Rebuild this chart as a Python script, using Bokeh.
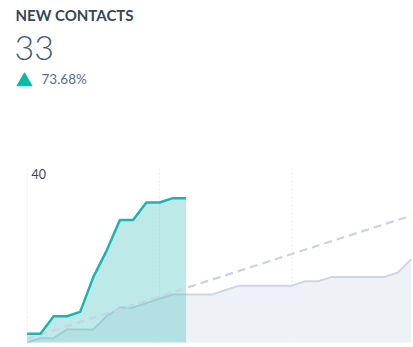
from bokeh.plotting import figure
from bokeh.models import Range1d, Label, ColumnDataSource
from bokeh.embed import file_html
from bokeh.resources import INLINE

# ---- data ----
days = list(range(30))
current = [2, 2, 6, 6, 7, 15, 21, 28, 28, 32, 32, 33, 33]
previous = [0, 1, 1, 3, 3, 3, 6, 8, 8, 9, 10, 11, 11, 11, 11, 12, 13, 13, 13, 13,
            13, 14, 14, 15, 15, 15, 15, 15, 16, 19]
trend_days = [0, 29]
trend_vals = [0.8, 29]
grid_days = [0, 10, 20]
y_max = 40
title = "NEW CONTACTS"
total = "33"
change = "73.68%"

# ---- layout helpers (pixel -> data) ----
W, H = 413, 347
X0, DX = 26.7, 13.24
Y0, DY = 342.0, 4.375


def dx(px):
    return (px - X0) / DX


def dy(py):
    return (Y0 - py) / DY


p = figure(width=W, height=H, output_backend="svg", toolbar_location=None,
           x_range=Range1d(dx(0), dx(W)), y_range=Range1d(dy(H), dy(0)),
           min_border=0, min_border_left=0, min_border_right=0,
           min_border_top=0, min_border_bottom=0)
p.axis.visible = False
p.grid.visible = False
p.outline_line_color = None
p.background_fill_color = "white"
p.border_fill_color = "white"

# grid lines
p.segment(x0=grid_days, x1=grid_days, y0=[0] * len(grid_days), y1=[y_max] * len(grid_days),
          line_color="#e6ecf1", line_width=1, line_dash="2 2")

prev_src = ColumnDataSource(dict(x=days, y=previous, z=[0] * len(previous)))
cur_src = ColumnDataSource(dict(x=days[:len(current)], y=current, z=[0] * len(current)))

p.varea(x="x", y1="z", y2="y", source=prev_src, fill_color="#eef2f6")
p.line(x="x", y="y", source=prev_src, line_color="#cbd6e2", line_width=2)
p.varea(x="x", y1="z", y2="y", source=cur_src, fill_color="#45c0c0", fill_alpha=0.35)
p.line(x=trend_days, y=trend_vals, line_color="#c8d4e3", line_width=2.2, line_dash="8 5")
p.line(x="x", y="y", source=cur_src, line_color="#1fb2b0", line_width=2.5)

# texts
p.add_layout(Label(x=dx(15), y=dy(23), text=title, text_font="Lato",
                   text_font_style="bold", text_font_size="15px", text_color="#33475b"))
p.add_layout(Label(x=dx(14), y=dy(59.5), text=total, text_font="Lato Light",
                   text_font_size="34px", text_color="#425b76"))
p.scatter(x=[dx(24)], y=[dy(81)], marker="triangle", size=15,
          fill_color="#00bda5", line_color="#00bda5")
p.add_layout(Label(x=dx(41), y=dy(86.5), text=change, text_font="Lato",
                   text_font_size="13.5px", text_color="#516f90"))
p.add_layout(Label(x=dx(31), y=dy(178), text=str(y_max), text_font="Lato",
                   text_font_size="12.5px", text_color="#33475b"))

open("out.html", "w").write(file_html(p, INLINE))
